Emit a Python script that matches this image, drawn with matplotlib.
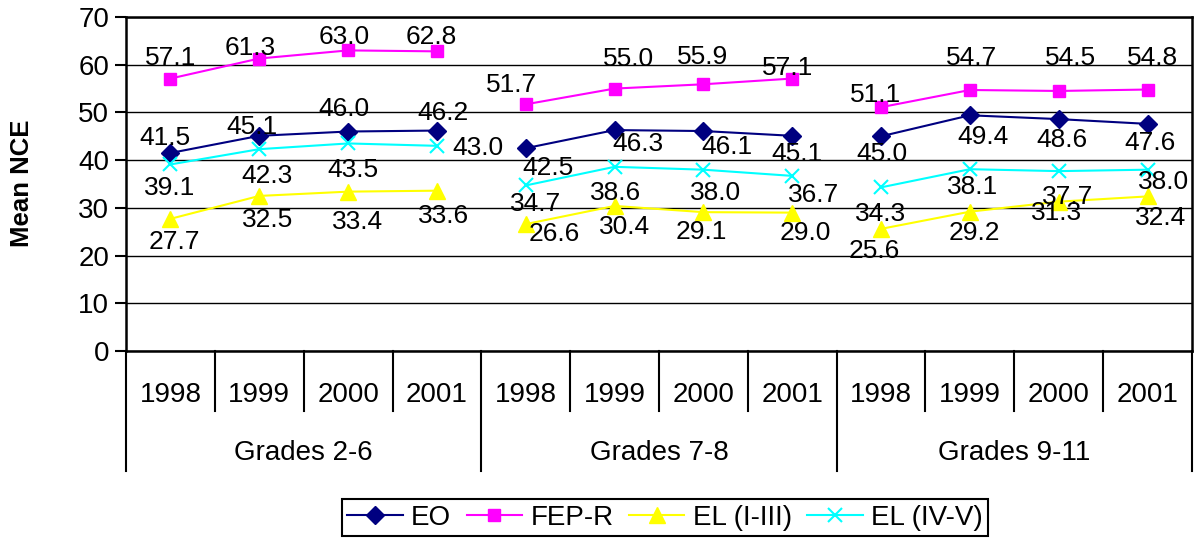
import numpy as np
import matplotlib
matplotlib.use("Agg")
import matplotlib.pyplot as plt

plt.rcParams['font.family'] = ['Liberation Sans', 'DejaVu Sans']

groups = ["Grades 2-6", "Grades 7-8", "Grades 9-11"]
years = ["1998", "1999", "2000", "2001"]

eo = [41.5, 45.1, 46.0, 46.2, 42.5, 46.3, 46.1, 45.1, 45.0, 49.4, 48.6, 47.6]
fep_r = [57.1, 61.3, 63.0, 62.8, 51.7, 55.0, 55.9, 57.1, 51.1, 54.7, 54.5, 54.8]
el_1_3 = [27.7, 32.5, 33.4, 33.6, 26.6, 30.4, 29.1, 29.0, 25.6, 29.2, 31.3, 32.4]
el_4_5 = [39.1, 42.3, 43.5, 43.0, 34.7, 38.6, 38.0, 36.7, 34.3, 38.1, 37.7, 38.0]

# label offsets in pixels (dx right, dy down) as placed in the original
off_eo = [(-5, -15), (-7, -9), (-4, -23), (6, -18), (22, 20), (23, 14),
          (24, 16), (5, 18), (1, 18), (13, 22), (3, 21), (2, 19)]
off_fep = [(0, -21), (-9, -11), (-4, -13), (-6, -14), (-14, -19), (14, -30),
           (-1, -27), (-5, -11), (-6, -12), (2, -32), (12, -33), (5, -32)]
off_el13 = [(4, 23), (8, 24), (9, 30), (7, 25), (28, 10), (10, 21),
            (-2, 20), (13, 20), (-7, 22), (4, 21), (-2, 11), (13, 22)]
off_el45 = [(-1, 24), (8, 27), (5, 27), (41, 2), (10, 19), (1, 26),
            (12, 23), (21, 19), (-1, 27), (3, 18), (9, 26), (16, 12)]

series = [
    ("EO", eo, off_eo, dict(color="#000080", marker="D", ms=9)),
    ("FEP-R", fep_r, off_fep, dict(color="#FF00FF", marker="s", ms=8,
                                   mfc="#FF00FF", mec="#FF00FF")),
    ("EL (I-III)", el_1_3, off_el13, dict(color="#FFFF00", marker="^", ms=11)),
    ("EL (IV-V)", el_4_5, off_el45, dict(color="#00FFFF", marker="x", ms=10,
                                         mew=1.5)),
]

fig = plt.figure(figsize=(11.94, 5.39), dpi=100)
ax = fig.add_axes([126 / 1194, 1 - 351 / 539, 1066 / 1194, 334 / 539])

n_years = len(years)
x = np.arange(len(eo))
for name, vals, offs, style in series:
    vals = np.array(vals)
    for g in range(len(groups)):
        sl = slice(g * n_years, (g + 1) * n_years)
        ax.plot(x[sl], vals[sl], lw=1.5, label=name if g == 0 else None,
                zorder=3, **style)
    for xi, v, (dx, dy) in zip(x, vals, offs):
        ax.annotate(f"{v:.1f}", (xi, v), xytext=(dx, -dy),
                    textcoords="offset pixels", ha="center", va="center",
                    fontsize=19, zorder=4)

ax.set_xlim(-0.5, len(eo) - 0.5)
ax.set_ylim(0, 70)
ax.set_yticks(np.arange(0, 71, 10))
ax.yaxis.grid(True, color="black", lw=1)
ax.set_axisbelow(True)
ax.tick_params(axis="y", length=8, width=1.5, pad=4, labelsize=20)
ax.set_xticks([])
for s in ax.spines.values():
    s.set_linewidth(1.8)
    s.set_color("black")

# two-level category axis
tr = ax.get_xaxis_transform()
year_depth = -60 / 334
group_depth = -120 / 334
for b in np.arange(-0.5, len(eo), 1.0):
    depth = group_depth if (b + 0.5) % n_years == 0 else year_depth
    ax.plot([b, b], [0, depth], color="black", lw=1.5, transform=tr,
            clip_on=False)
for xi in x:
    ax.text(xi, -44 / 334, years[xi % n_years], transform=tr, ha="center",
            va="center", fontsize=20)
for g, name in enumerate(groups):
    ax.text(g * n_years + (n_years - 1) / 2, -102 / 334, name, transform=tr,
            ha="center", va="center", fontsize=20)

fig.text(22 / 1194, 1 - 183 / 539, "Mean NCE", rotation=90, ha="center",
         va="center", fontsize=18.5, fontweight="bold")

leg = fig.legend(loc="upper center", bbox_to_anchor=(665 / 1194, 1 - 499 / 539),
                 ncol=4, fontsize=20, frameon=True, fancybox=False,
                 edgecolor="black", framealpha=1, handlelength=2.0,
                 handletextpad=0.3, columnspacing=0.55, borderpad=0.2,
                 borderaxespad=0)
leg.get_frame().set_linewidth(1.5)

fig.savefig("out.png", dpi=100)
